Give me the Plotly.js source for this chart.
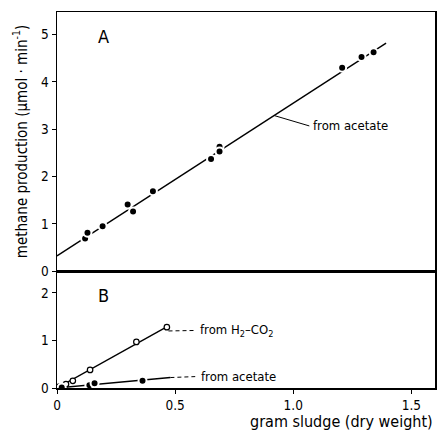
<!DOCTYPE html>
<html><head><meta charset="utf-8">
<script src="https://cdn.plot.ly/plotly-3.0.1.min.js"></script>
<style>body{margin:0;background:#fff}#c{width:438px;height:433px}</style>
</head><body><div id="c"></div>
<script>
// Panel A: methane from acetate
const aX = [0.119, 0.129, 0.193, 0.299, 0.322, 0.406, 0.652, 0.688, 0.688, 1.207, 1.289, 1.340];
const aY = [0.69, 0.81, 0.95, 1.41, 1.26, 1.69, 2.37, 2.63, 2.53, 4.30, 4.53, 4.63];
const aFitX = [0, 1.393];
const aFitY = [0.32, 4.82];
// Panel B: from H2-CO2 (open) and acetate (filled)
const bHX = [0.01, 0.038, 0.067, 0.140, 0.336, 0.465];
const bHY = [0.03, 0.08, 0.15, 0.38, 0.97, 1.28];
const bHFitX = [0, 0.47];
const bHFitY = [0, 1.30];
const bAX = [0.02, 0.137, 0.159, 0.362];
const bAY = [0.01, 0.06, 0.10, 0.15];
const bAFitX = [0, 0.48];
const bAFitY = [0, 0.22];
const xTicks = [0, 0.5, 1.0, 1.5];
const xTickText = ['0', '0.5', '1.0', '1.5'];

const F = 'DejaVu Sans Condensed, DejaVu Sans, sans-serif';
const line = (x, y, xa, ya, dash) => ({x, y, xaxis: xa, yaxis: ya, mode: 'lines', type: 'scatter',
  line: {color: '#000', width: 1.4, dash: dash || 'solid'}, hoverinfo: 'skip', showlegend: false});
const pts = (x, y, xa, ya) => ({x, y, xaxis: xa, yaxis: ya, mode: 'markers', type: 'scatter', showlegend: false,
  marker: {symbol: 'circle', size: 8, color: '#000', line: {width: 2, color: '#fff'}}});

const data = [
  line(aFitX, aFitY, 'x2', 'y2'),
  pts(aX, aY, 'x2', 'y2'),
  line(bHFitX, bHFitY, 'x', 'y'),
  line(bAFitX, bAFitY, 'x', 'y'),
  {x: bHX, y: bHY, xaxis: 'x', yaxis: 'y', mode: 'markers', type: 'scatter', showlegend: false,
   marker: {symbol: 'circle', size: 5.5, color: '#fff', line: {width: 1.2, color: '#000'}}},
  pts(bAX, bAY, 'x', 'y')
];

const ax = {showgrid: false, zeroline: false, showline: true, linecolor: '#000', linewidth: 1.5, mirror: true,
  ticks: 'outside', ticklen: 4, tickcolor: '#000', tickfont: {family: F, size: 13.5, color: '#000'}};

const layout = {
  width: 438, height: 433,
  margin: {l: 57, r: 3, t: 12, b: 45},
  paper_bgcolor: '#fff', plot_bgcolor: '#fff',
  font: {family: F, color: '#000'},
  xaxis: Object.assign({}, ax, {domain: [0, 1], anchor: 'y', range: [0, 1.6], tickvals: xTicks, ticktext: xTickText}),
  yaxis: Object.assign({}, ax, {domain: [0, 0.311], anchor: 'x', range: [0, 2.46], tickvals: [0, 1, 2]}),
  xaxis2: Object.assign({}, ax, {domain: [0, 1], anchor: 'y2', range: [0, 1.6], matches: 'x', showticklabels: false, ticks: ''}),
  yaxis2: Object.assign({}, ax, {domain: [0.311, 1], anchor: 'x2', range: [0, 5.48], tickvals: [0, 1, 2, 3, 4, 5],
    title: {text: 'methane production (μmol · min<sup>-1</sup>)', font: {family: F, size: 15, color: '#000'}, standoff: 10}}),
  shapes: [
    {type: 'line', xref: 'x2', yref: 'y2', x0: 0.919, y0: 3.29, x1: 1.068, y1: 3.07, line: {color: '#000', width: 1}},
    {type: 'line', xref: 'x', yref: 'y', x0: 0.472, y0: 1.20, x1: 0.58, y1: 1.21, line: {color: '#000', width: 1, dash: '4px,3px'}},
    {type: 'line', xref: 'x', yref: 'y', x0: 0.48, y0: 0.22, x1: 0.585, y1: 0.24, line: {color: '#000', width: 1, dash: '4px,3px'}}
  ],
  annotations: [
    {xref: 'x2', yref: 'y2', x: 1.075, y: 3.07, text: 'from acetate', showarrow: false, xanchor: 'left', font: {family: F, size: 13}},
    {xref: 'x', yref: 'y', x: 0.595, y: 1.2, text: 'from H<sub>2</sub>–CO<sub>2</sub>', showarrow: false, xanchor: 'left', font: {family: F, size: 13}},
    {xref: 'x', yref: 'y', x: 0.6, y: 0.25, text: 'from acetate', showarrow: false, xanchor: 'left', font: {family: F, size: 13}},
    {xref: 'paper', yref: 'paper', x: 0.122, y: 0.934, text: 'A', showarrow: false, xanchor: 'center', yanchor: 'middle', font: {family: F, size: 18}},
    {xref: 'paper', yref: 'paper', x: 0.122, y: 0.247, text: 'B', showarrow: false, xanchor: 'center', yanchor: 'middle', font: {family: F, size: 18}},
    {xref: 'paper', yref: 'paper', x: 1.0, y: -0.119, text: 'gram sludge (dry weight)', showarrow: false, xanchor: 'right', yanchor: 'bottom', font: {family: F, size: 16}}
  ]
};
Plotly.newPlot('c', data, layout, {displayModeBar: false, staticPlot: true});
</script></body></html>
